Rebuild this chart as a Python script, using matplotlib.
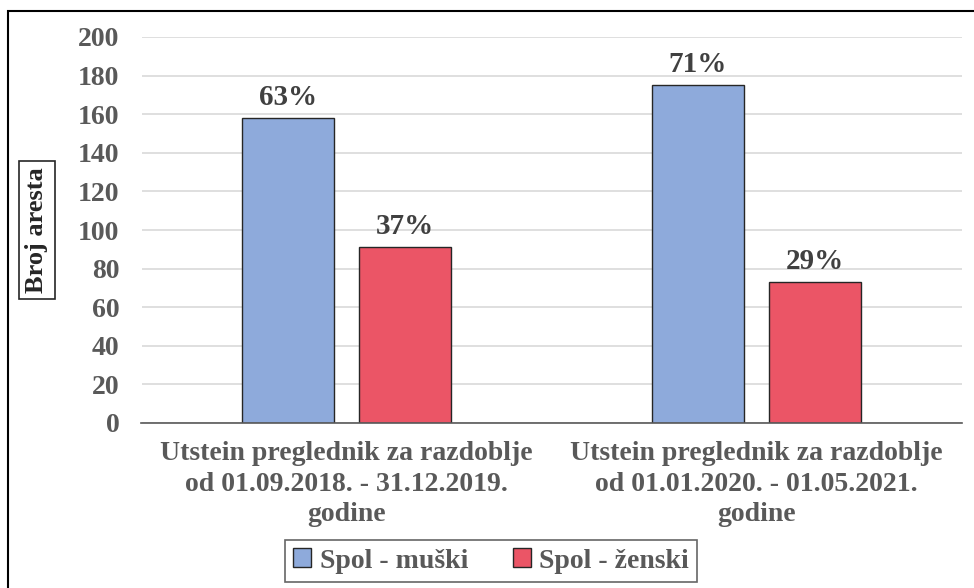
import numpy as np
import matplotlib
matplotlib.use("Agg")
import matplotlib.pyplot as plt
from matplotlib.patches import Rectangle

plt.rcParams["font.family"] = ["Liberation Serif", "DejaVu Serif"]
plt.rcParams["font.weight"] = "bold"

categories = [
    "Utstein preglednik za razdoblje\nod 01.09.2018. - 31.12.2019.\ngodine",
    "Utstein preglednik za razdoblje\nod 01.01.2020. - 01.05.2021.\ngodine",
]
series_names = ["Spol - muški", "Spol - ženski"]
male_counts = [158, 175]
female_counts = [91, 73]
male_pct = ["63%", "71%"]
female_pct = ["37%", "29%"]
y_ticks = list(range(0, 201, 20))

COLORS = ["#8eaadb", "#eb5566"]
TEXT_GRAY = "#595959"

fig = plt.figure(figsize=(9.74, 5.88), dpi=100)
ax = fig.add_axes([141.5 / 974, 1 - 423 / 588, 820 / 974, 386 / 588])

x = np.arange(len(categories))
width = 0.224
offset = 0.1426

series = [male_counts, female_counts]
labels = [male_pct, female_pct]
for i, (vals, pcts) in enumerate(zip(series, labels)):
    pos = x + (offset if i else -offset)
    bars = ax.bar(pos, vals, width, color=COLORS[i], edgecolor="#262626",
                  linewidth=1.0, label=series_names[i], zorder=3)
    for b, p in zip(bars, pcts):
        ax.annotate(p, (b.get_x() + b.get_width() / 2, b.get_height()),
                    xytext=(0, 5), textcoords="offset points", ha="center",
                    va="bottom", fontsize=21, fontweight="bold", color="#404040")

ax.set_xlim(-0.5, 1.5)
ax.set_ylim(0, 200)
ax.set_yticks(y_ticks)
ax.set_xticks(x)
ax.set_xticklabels(categories, fontsize=20, fontweight="bold", color=TEXT_GRAY,
                   linespacing=1.3)
ax.tick_params(axis="y", labelsize=20, labelcolor=TEXT_GRAY, length=0, pad=16)
ax.tick_params(axis="x", length=0, pad=13)
for lab in ax.get_yticklabels():
    lab.set_fontweight("bold")

ax.grid(axis="y", color="#d9d9d9", linewidth=1.2, zorder=0)
for s in ["top", "right", "left"]:
    ax.spines[s].set_visible(False)
ax.spines["bottom"].set_color("#595959")
ax.spines["bottom"].set_linewidth(1.2)
ax.spines["bottom"].set_zorder(4)

fig.text(37 / 974, 1 - 230 / 588, "Broj aresta", rotation=90, ha="center",
         va="center", fontsize=19, fontweight="bold", color="#262626",
         bbox=dict(boxstyle="square,pad=0.25", fc="white", ec="#262626", lw=1.2))

leg = fig.legend(loc="center", bbox_to_anchor=(491 / 974, 1 - 561 / 588), ncol=2,
                 frameon=True, fancybox=False, edgecolor="#404040",
                 prop={"family": "Liberation Serif", "weight": "bold", "size": 20},
                 handlelength=0.65, handleheight=0.65, handletextpad=0.3,
                 columnspacing=1.6, borderpad=0.3, borderaxespad=0.0)
leg.get_frame().set_linewidth(1.2)
for t in leg.get_texts():
    t.set_color(TEXT_GRAY)

fig.patches.append(Rectangle((8 / 974, -0.1), 1.2, 1 - 11 / 588 + 0.1,
                             transform=fig.transFigure, fill=False,
                             ec="#000000", lw=1.5))

fig.savefig("out.png", dpi=100)
